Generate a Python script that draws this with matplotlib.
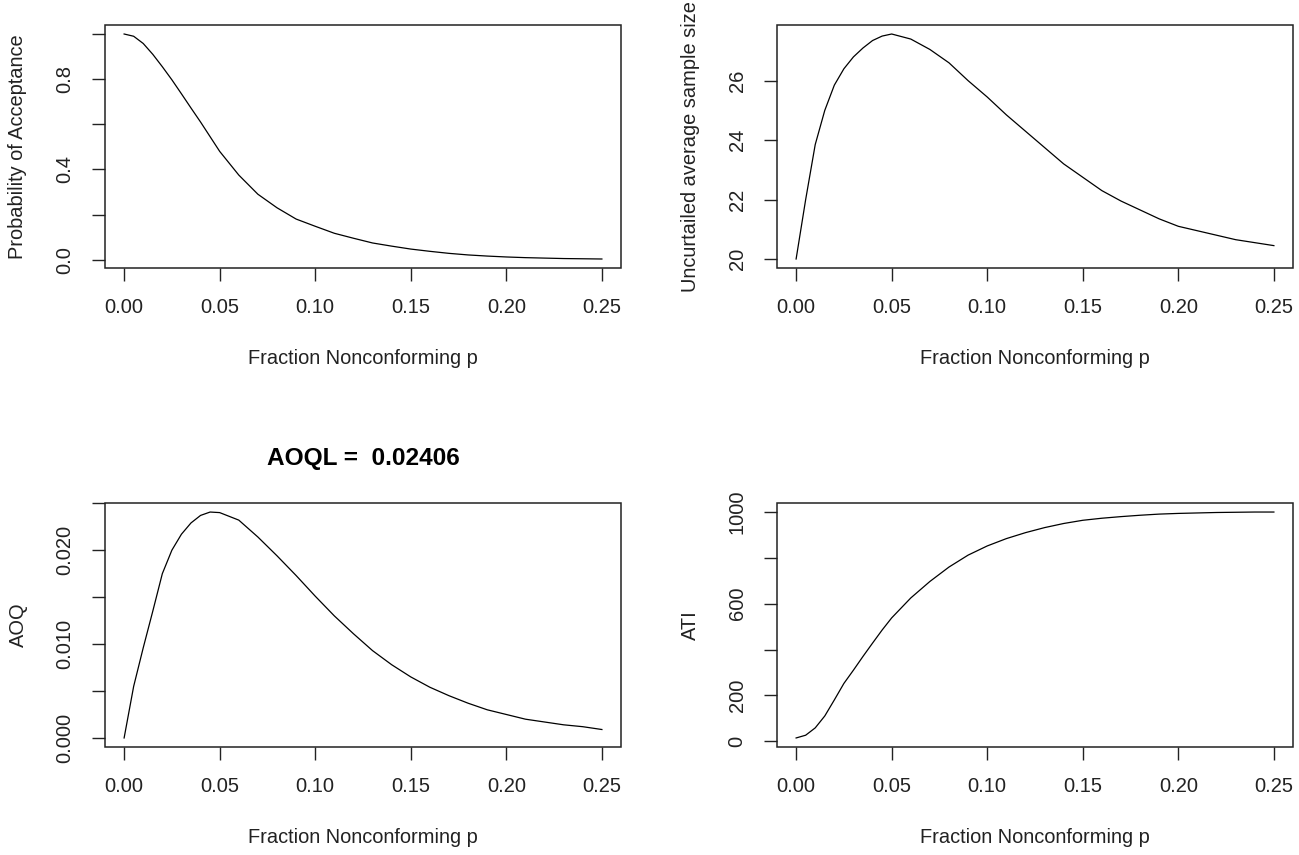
import matplotlib
matplotlib.use("Agg")
import matplotlib.pyplot as plt
from matplotlib.patches import Rectangle

plt.rcParams['font.family'] = ['Liberation Sans', 'DejaVu Sans']

# fraction nonconforming
p = [0, 0.005, 0.01, 0.015, 0.02, 0.025, 0.03, 0.035, 0.04, 0.045, 0.05,
     0.06, 0.07, 0.08, 0.09, 0.10, 0.11, 0.12, 0.13, 0.14, 0.15,
     0.16, 0.17, 0.18, 0.19, 0.20, 0.21, 0.22, 0.23, 0.24, 0.25]

pa = [1.0, 0.99, 0.958, 0.91, 0.855, 0.797, 0.735, 0.672, 0.61, 0.545, 0.48,
      0.375, 0.29, 0.23, 0.18, 0.148, 0.117, 0.095, 0.074, 0.06, 0.047,
      0.037, 0.028, 0.021, 0.016, 0.012, 0.009, 0.007, 0.005, 0.004, 0.003]

asn = [20.0, 22.0, 23.85, 25.0, 25.85, 26.4, 26.8, 27.1, 27.35, 27.5, 27.57,
       27.4, 27.05, 26.6, 26.0, 25.45, 24.85, 24.3, 23.75, 23.2, 22.75,
       22.3, 21.95, 21.65, 21.35, 21.1, 20.95, 20.8, 20.65, 20.55, 20.45]

aoq = [0.0, 0.0055, 0.0096, 0.0135, 0.0175, 0.0200, 0.0217, 0.0229, 0.0237, 0.02406, 0.0240,
       0.0232, 0.0214, 0.0194, 0.0173, 0.0151, 0.0130, 0.0111, 0.0093, 0.0078, 0.0065,
       0.0054, 0.0045, 0.0037, 0.0030, 0.0025, 0.0020, 0.0017, 0.0014, 0.0012, 0.0009]

ati = [14, 26, 58, 110, 180, 252, 310, 370, 428, 485, 538,
       625, 697, 760, 812, 852, 884, 910, 932, 950, 964,
       973, 980, 986, 991, 994, 996, 998, 999, 1000, 1000]

aoql = "AOQL =  0.02406"

xticks = [0.00, 0.05, 0.10, 0.15, 0.20, 0.25]
xticklabels = ["0.00", "0.05", "0.10", "0.15", "0.20", "0.25"]

W, H = 1299, 855
fig = plt.figure(figsize=(W / 100, H / 100), dpi=100)
ink = "#222222"


def make_ax(x0, y0, x1, y1):
    ax = fig.add_axes([x0 / W, 1 - y1 / H, (x1 - x0) / W, (y1 - y0) / H])
    ax._px = (x0, y0, x1, y1)
    return ax


def style(ax, y, yticks, ylabels, ylabel):
    x0, y0, x1, y1 = ax._px
    ax.plot(p, y, color="black", lw=0.9)
    ax.set_xlim(-0.01, 0.26)
    lo, hi = min(y), max(y)
    r = hi - lo
    ax.set_ylim(lo - 0.04 * r, hi + 0.04 * r)
    for s in ax.spines.values():
        s.set_visible(False)
    ax.add_patch(Rectangle((0, 0), 1, 1, transform=ax.transAxes, fill=False,
                           lw=1.1, ec=ink, clip_on=False))
    ax.set_xticks(xticks)
    ax.set_xticklabels(xticklabels)
    ax.set_yticks(yticks)
    ax.set_yticklabels(ylabels, rotation=90, va="center")
    ax.tick_params(axis="both", direction="out", length=9.4, width=1.0,
                   labelsize=14.5, color=ink, labelcolor=ink)
    ax.tick_params(axis="x", pad=12.5)
    ax.tick_params(axis="y", pad=12.5)
    ax.set_xlabel("Fraction Nonconforming p", fontsize=14.4, color=ink)
    ax.xaxis.label.set_va("center")
    ax.xaxis.set_label_coords(0.5, -90.5 / (y1 - y0))
    ax.set_ylabel(ylabel, fontsize=14.4, color=ink)
    ax.yaxis.label.set_va("center")
    ax.yaxis.set_label_coords(-87.0 / (x1 - x0), 0.5)


ax1 = make_ax(105, 25, 621, 268)
style(ax1, pa, [0, 0.2, 0.4, 0.6, 0.8, 1.0], ["0.0", "", "0.4", "", "0.8", ""],
      "Probability of Acceptance")

ax2 = make_ax(777, 25, 1293, 268)
style(ax2, asn, [20, 22, 24, 26], ["20", "22", "24", "26"],
      "Uncurtailed average sample size")

ax3 = make_ax(105, 503, 621, 747)
style(ax3, aoq, [0, 0.005, 0.010, 0.015, 0.020, 0.025],
      ["0.000", "", "0.010", "", "0.020", ""], "AOQ")
ax3.text(0.5, (747 - 458) / (747 - 503), aoql, transform=ax3.transAxes,
         ha="center", va="center", fontsize=17.6, fontweight="bold")

ax4 = make_ax(777, 503, 1293, 747)
style(ax4, ati, [0, 200, 400, 600, 800, 1000], ["0", "200", "", "600", "", "1000"],
      "ATI")

fig.savefig("out.png", dpi=100, facecolor="white")
